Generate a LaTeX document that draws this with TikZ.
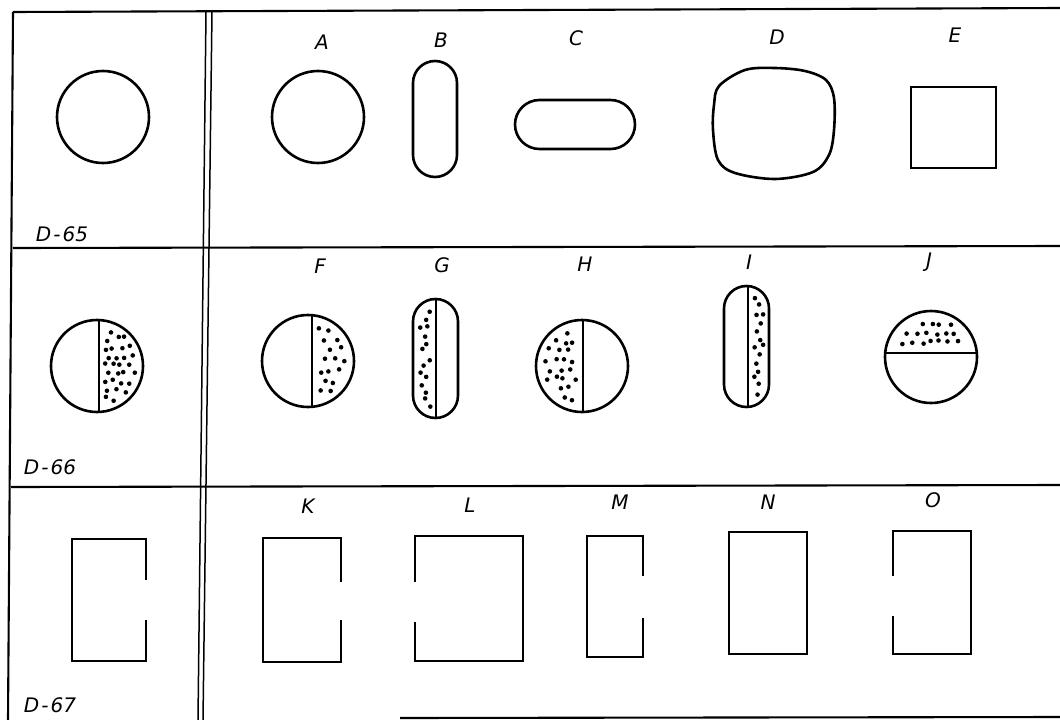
\documentclass[tikz,border=0pt]{standalone}
\usepackage{fontspec}
\setmainfont{DejaVu Sans}
% jittered stipple: x0 y0 x1 y1 spacing condition(\px,\py)
\newcommand\stip[6]{%
  \pgfmathtruncatemacro\nx{(#3-#1)/#5}%
  \pgfmathtruncatemacro\ny{(#4-#2)/#5}%
  \foreach \i in {0,...,\nx}{\foreach \j in {0,...,\ny}{%
    \pgfmathsetmacro\px{#1+\i*#5+mod(\j,2)*#5/2+rand*2.4}%
    \pgfmathsetmacro\py{#2+\j*#5+rand*2.4}%
    \pgfmathparse{#6}%
    \ifdim\pgfmathresult pt>0.5pt \fill (\px,\py) circle (2.3pt);\fi}}}
\tikzset{
  rule/.style={line width=2.1pt},
  thinrule/.style={line width=1.5pt},
  outl/.style={line width=2.6pt},
  divider/.style={line width=2pt},
  lab/.style={font=\fontsize{20}{23}\selectfont\itshape, inner sep=0pt},
}
\begin{document}
\begin{tikzpicture}[x=1pt,y=-1pt]
\useasboundingbox (0,0) rectangle (1060,720);
% ---------- table rules ----------
\coordinate (tl) at (13,12);
\coordinate (tr) at (1060,8);
\coordinate (bl) at (8,720);
\draw[rule] (tl) -- (tr);
\draw[rule] (tl) -- (bl);
\draw[rule] (13,248) -- (1060,246);
\draw[rule] (11,487) -- (1060,485);
\draw[rule] (400,718) -- (1060,717);
\draw[thinrule] (206,12) -- (198,720);
\draw[thinrule] (212,12) -- (203,720);
% ---------- labels ----------
\node[lab] (lA) at (322,42) {A};
\node[lab] (lB) at (441,40) {B};
\node[lab] (lC) at (576,38) {C};
\node[lab] (lD) at (777,37) {D};
\node[lab] (lE) at (955,35) {E};
\node[lab] (lF) at (320,266) {F};
\node[lab] (lG) at (442,265) {G};
\node[lab] (lH) at (585,264) {H};
\node[lab] (lI) at (749,262) {I};
\node[lab] (lJ) at (929,262) {J};
\node[lab] (lK) at (308,506) {K};
\node[lab] (lL) at (470,505) {L};
\node[lab] (lM) at (620,502) {M};
\node[lab] (lN) at (768,502) {N};
\node[lab] (lO) at (933,500) {O};
\node[lab] (d65) at (62,234) {D{\kern2pt}-{\kern2pt}65};
\node[lab] (d66) at (50,467) {D{\kern2pt}-{\kern2pt}66};
\node[lab] (d67) at (50,705) {D{\kern2pt}-{\kern2pt}67};
% ---------- row 1 ----------
\draw[outl] (103,117) circle (46pt);
\draw[outl] (318,117) circle (46pt);
\draw[outl, rounded corners=22pt] (413,61) rectangle (457,177);
\draw[outl, rounded corners=24.5pt] (515,100) rectangle (635,149);
\draw[outl] plot[smooth cycle, tension=0.55] coordinates {
  (719,86) (745,70) (775,68) (805,71) (826,80) (834,98) (834,130)
  (829,155) (813,172) (775,179) (735,173) (718,160) (713,130) (714,105)};
\draw[outl] (911,87) rectangle (996,168);
% ---------- row 2 ----------
\pgfmathsetseed{7}
% D-66
\stip{100}{322}{146}{414}{8.5}{(\px>105)*((\px-97)^2+(\py-366)^2<40^2)}
\begin{scope}\clip (97,366) circle (46pt);
  \draw[divider] (99,310) -- (99,420);\end{scope}
\draw[outl] (97,366) circle (46pt);
% F
\stip{314}{318}{352}{410}{10.5}{(\px>318.5)*((\px-308)^2+(\py-361)^2<39^2)}
\begin{scope}\clip (308,361) circle (46pt);
  \draw[divider] (312,305) -- (312,420);\end{scope}
\draw[outl] (308,361) circle (46pt);
% G
\stip{416}{303}{432}{415}{8}{(\px>419)*(\px<430.5)*((\px-435.5)^2+max(0,321.5-\py,\py-395.5)^2<17^2)}
\draw[divider] (436,299) -- (436,418);
\draw[outl, rounded corners=22.5pt] (413,299) rectangle (458,418);
% H
\stip{536}{322}{580}{414}{9.5}{(\px<576.5)*((\px-582)^2+(\py-366)^2<39^2)}
\begin{scope}\clip (582,366) circle (46pt);
  \draw[divider] (583,310) -- (583,420);\end{scope}
\draw[outl] (582,366) circle (46pt);
% I
\stip{752}{290}{768}{405}{8}{(\px>753.5)*(\px<764)*((\px-746.5)^2+max(0,308.5-\py,\py-384.5)^2<17^2)}
\draw[divider] (748,286) -- (748,407);
\draw[outl, rounded corners=22.5pt] (724,286) rectangle (769,407);
% J
\stip{888}{314}{976}{350}{9.5}{(\py<347)*((\px-931)^2+(\py-357)^2<39^2)}
\begin{scope}\clip (931,357) circle (46pt);
  \draw[divider] (880,353) -- (985,353);\end{scope}
\draw[outl] (931,357) circle (46pt);
% ---------- row 3 ----------
\draw[outl] (146,580) -- (146,539) -- (72,539) -- (72,661) -- (146,661) -- (146,620);
\draw[outl] (341,582) -- (341,538) -- (263,538) -- (263,662) -- (341,662) -- (341,620);
\draw[outl] (415,582) -- (415,536) -- (523,536) -- (523,661) -- (415,661) -- (415,622);
\draw[outl] (643,576) -- (643,536) -- (587,536) -- (587,657) -- (643,657) -- (643,618);
\draw[outl] (729,532) rectangle (807,654);
\draw[outl] (893,576) -- (893,531) -- (971,531) -- (971,654) -- (893,654) -- (893,616);
\end{tikzpicture}
\end{document}
